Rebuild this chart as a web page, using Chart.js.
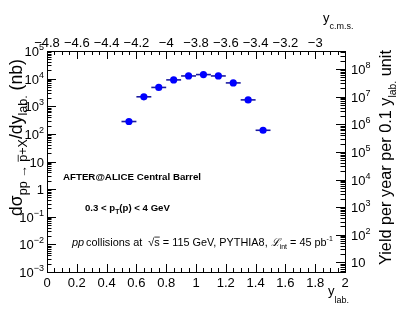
<!DOCTYPE html>
<html>
<head>
<meta charset="utf-8">
<script src="https://cdn.jsdelivr.net/npm/chart.js@4.4.0/dist/chart.umd.min.js"></script>
<style>
  html, body { margin: 0; padding: 0; background: #fff; }
  #wrap { width: 399px; height: 314px; }
</style>
</head>
<body>
<div id="wrap"><canvas id="c" width="399" height="314"></canvas></div>
<script>
// ---- data ----
const yLab = [0.55, 0.65, 0.75, 0.85, 0.95, 1.05, 1.15, 1.25, 1.35, 1.45];
const dSigma = [280, 2200, 4800, 9000, 12500, 14000, 12500, 7000, 1700, 135]; // nb
const binHalf = [0.05, 0.05, 0.05, 0.05, 0.05, 0.05, 0.05, 0.05, 0.05, 0.05];

const bottomTicks = [0, 0.2, 0.4, 0.6, 0.8, 1, 1.2, 1.4, 1.6, 1.8, 2];
const bottomLabels = ['0', '0.2', '0.4', '0.6', '0.8', '1', '1.2', '1.4', '1.6', '1.8', '2'];
const topTicks = [-4.8, -4.6, -4.4, -4.2, -4, -3.8, -3.6, -3.4, -3.2, -3];
const topLabels = ['\u22124.8', '\u22124.6', '\u22124.4', '\u22124.2', '\u22124', '\u22123.8', '\u22123.6', '\u22123.4', '\u22123.2', '\u22123'];
const leftDecades = [-3, -2, -1, 0, 1, 2, 3, 4, 5];
const rightDecades = [1, 2, 3, 4, 5, 6, 7, 8];

const yieldFactor = 4500; // 45 pb^-1 = 45000 nb^-1, per 0.1 unit
const yCmsShift = -4.8;

const FONT = '"Liberation Sans", Arial, Helvetica, sans-serif';

// draw a run of text pieces on one baseline; if fitW is given the sizes are scaled to that width
function richText(ctx, x, y, parts, align, fitW) {
    const fontOf = (p, k) => (p.style || '') + ' ' + (p.size * k).toFixed(2) + 'px ' + FONT;
    const measure = k => parts.reduce((s, p) => {
        ctx.font = fontOf(p, k);
        return s + ctx.measureText(p.t).width + (p.gap || 0);
    }, 0);
    let k = 1;
    if (fitW) k = fitW / measure(1);
    const total = measure(k);
    let cx = x;
    if (align === 'right') cx = x - total;
    if (align === 'center') cx = x - total / 2;
    ctx.textAlign = 'left';
    parts.forEach(p => {
        ctx.font = fontOf(p, k);
        const w = ctx.measureText(p.t).width;
        const by = y + (p.dy || 0) * k;
        ctx.fillText(p.t, cx, by);
        if (p.over) {
            ctx.beginPath();
            ctx.lineWidth = 0.8;
            ctx.moveTo(cx, by - p.over * k);
            ctx.lineTo(cx + w, by - p.over * k);
            ctx.stroke();
        }
        cx += w + (p.gap || 0);
    });
    return total;
}

const errorBars = {
    id: 'errorBars',
    beforeDatasetsDraw(chart) {
        const ctx = chart.ctx;
        const xs = chart.scales.x, ys = chart.scales.y;
        ctx.save();
        ctx.strokeStyle = '#1a1aa0';
        ctx.lineWidth = 1.6;
        yLab.forEach((v, i) => {
            const py = ys.getPixelForValue(dSigma[i]);
            ctx.beginPath();
            ctx.moveTo(xs.getPixelForValue(v - binHalf[i]), py);
            ctx.lineTo(xs.getPixelForValue(v + binHalf[i]), py);
            ctx.stroke();
        });
        ctx.restore();
    }
};

const frame = {
    id: 'frame',
    afterDraw(chart) {
        const ctx = chart.ctx;
        const a = chart.chartArea;
        const xs = chart.scales.x, x2 = chart.scales.x2;
        const ys = chart.scales.y, y2 = chart.scales.y2;
        ctx.save();
        ctx.strokeStyle = '#000';
        ctx.fillStyle = '#000';
        ctx.lineWidth = 1;
        ctx.strokeRect(a.left + 0.5, a.top + 0.5, a.right - a.left, a.bottom - a.top);

        ctx.beginPath();
        // bottom and top linear ticks
        for (let k = 0; k <= 40; k++) {
            const v = k * 0.05;
            const len = k % 4 === 0 ? 8 : 4;
            const px = Math.round(xs.getPixelForValue(v)) + 0.5;
            ctx.moveTo(px, a.bottom);
            ctx.lineTo(px, a.bottom - len);
            const qx = Math.round(x2.getPixelForValue(v + yCmsShift)) + 0.5;
            ctx.moveTo(qx, a.top);
            ctx.lineTo(qx, a.top + len);
        }
        // left log ticks
        leftDecades.forEach(d => {
            for (let m = 1; m <= 9; m++) {
                const v = m * Math.pow(10, d);
                if (v > ys.max * 1.0001) break;
                const py = Math.round(ys.getPixelForValue(v)) + 0.5;
                ctx.moveTo(a.left, py);
                ctx.lineTo(a.left + (m === 1 ? 9 : 4.5), py);
            }
        });
        // right log ticks
        [0].concat(rightDecades).forEach(d => {
            for (let m = 1; m <= 9; m++) {
                const v = m * Math.pow(10, d);
                if (v < y2.min || v > y2.max) continue;
                const py = Math.round(y2.getPixelForValue(v)) + 0.5;
                ctx.moveTo(a.right, py);
                ctx.lineTo(a.right - (m === 1 ? 9 : 4.5), py);
            }
        });
        ctx.stroke();

        // tick labels
        ctx.textBaseline = 'alphabetic';
        bottomTicks.forEach((v, i) => {
            richText(ctx, xs.getPixelForValue(v), a.bottom + 15, [{ t: bottomLabels[i], size: 13 }], 'center');
        });
        topTicks.forEach((v, i) => {
            richText(ctx, x2.getPixelForValue(v), a.top - 4, [{ t: topLabels[i], size: 13 }], 'center');
        });
        leftDecades.forEach(d => {
            const py = ys.getPixelForValue(Math.pow(10, d)) + 5;
            let parts;
            if (d === 0) parts = [{ t: '1', size: 13 }];
            else if (d === 1) parts = [{ t: '10', size: 13 }];
            else parts = [{ t: '10', size: 13 }, { t: (d < 0 ? '\u2212' : '') + Math.abs(d), size: 9, dy: -6 }];
            richText(ctx, a.left - 3, py, parts, 'right');
        });
        rightDecades.forEach(d => {
            const py = y2.getPixelForValue(Math.pow(10, d)) + 5;
            const parts = d === 1 ? [{ t: '10', size: 13 }]
                : [{ t: '10', size: 13 }, { t: String(d), size: 9, dy: -6 }];
            richText(ctx, a.right + 6, py, parts, 'left');
        });

        // axis titles
        richText(ctx, 323, 22, [{ t: 'y', size: 13 }, { t: 'c.m.s.', size: 9, dy: 7 }], 'left');
        richText(ctx, 328, 295, [{ t: 'y', size: 13 }, { t: 'lab.', size: 9, dy: 8 }], 'left');

        ctx.save();
        ctx.translate(22, 216);
        ctx.rotate(-Math.PI / 2);
        richText(ctx, 0, 0, [
            { t: 'd\u03c3', size: 14 },
            { t: 'pp \u2192 ', size: 10, dy: 4 },
            { t: 'p', size: 10, dy: 4, over: 7 },
            { t: '+X', size: 10, dy: 4 },
            { t: '/dy', size: 14 },
            { t: 'lab.', size: 10, dy: 4 },
            { t: ' (nb)', size: 14 }
        ], 'left', 157);
        ctx.restore();

        ctx.save();
        ctx.translate(391, 265);
        ctx.rotate(-Math.PI / 2);
        richText(ctx, 0, 0, [
            { t: 'Yield per year per 0.1 y', size: 14 },
            { t: 'lab.', size: 9, dy: 4 },
            { t: ' unit', size: 14 }
        ], 'left', 215);
        ctx.restore();

        // annotations
        richText(ctx, 63, 180, [{ t: 'AFTER@ALICE Central Barrel', size: 10, style: 'bold' }], 'left', 138);
        richText(ctx, 85, 211, [
            { t: '0.3 < p', size: 10, style: 'bold' },
            { t: 'T', size: 7, style: 'bold', dy: 3 },
            { t: '(p) < 4 GeV', size: 10, style: 'bold' }
        ], 'left', 85);
        richText(ctx, 72, 246, [
            { t: 'pp', size: 11, style: 'italic', gap: 2 },
            { t: 'collisions at  \u221a', size: 11 },
            { t: 's', size: 11, over: 9 },
            { t: ' = 115 GeV, PYTHIA8, ', size: 11 },
            { t: '\u2112', size: 11, style: 'italic' },
            { t: 'int', size: 7, dy: 3 },
            { t: ' = 45 pb', size: 11 },
            { t: '-1', size: 7, dy: -5 }
        ], 'left', 261);
        ctx.restore();
    }
};

new Chart(document.getElementById('c'), {
    type: 'scatter',
    data: {
        datasets: [{
            data: yLab.map((v, i) => ({ x: v, y: dSigma[i] })),
            pointRadius: 3.6,
            pointBackgroundColor: '#0000ff',
            pointBorderWidth: 0,
            showLine: false
        }]
    },
    options: {
        responsive: false,
        animation: false,
        events: [],
        layout: { padding: { left: 47, right: 54, top: 51, bottom: 42 } },
        plugins: { legend: { display: false }, tooltip: { enabled: false } },
        scales: {
            x: { type: 'linear', min: 0, max: 2, display: false },
            x2: { type: 'linear', position: 'top', min: yCmsShift, max: 2 + yCmsShift, display: false },
            y: { type: 'logarithmic', min: 1e-3, max: 1e5, display: false },
            y2: { type: 'logarithmic', position: 'right', min: 1e-3 * yieldFactor, max: 1e5 * yieldFactor, display: false }
        }
    },
    plugins: [errorBars, frame]
});
</script>
</body>
</html>
